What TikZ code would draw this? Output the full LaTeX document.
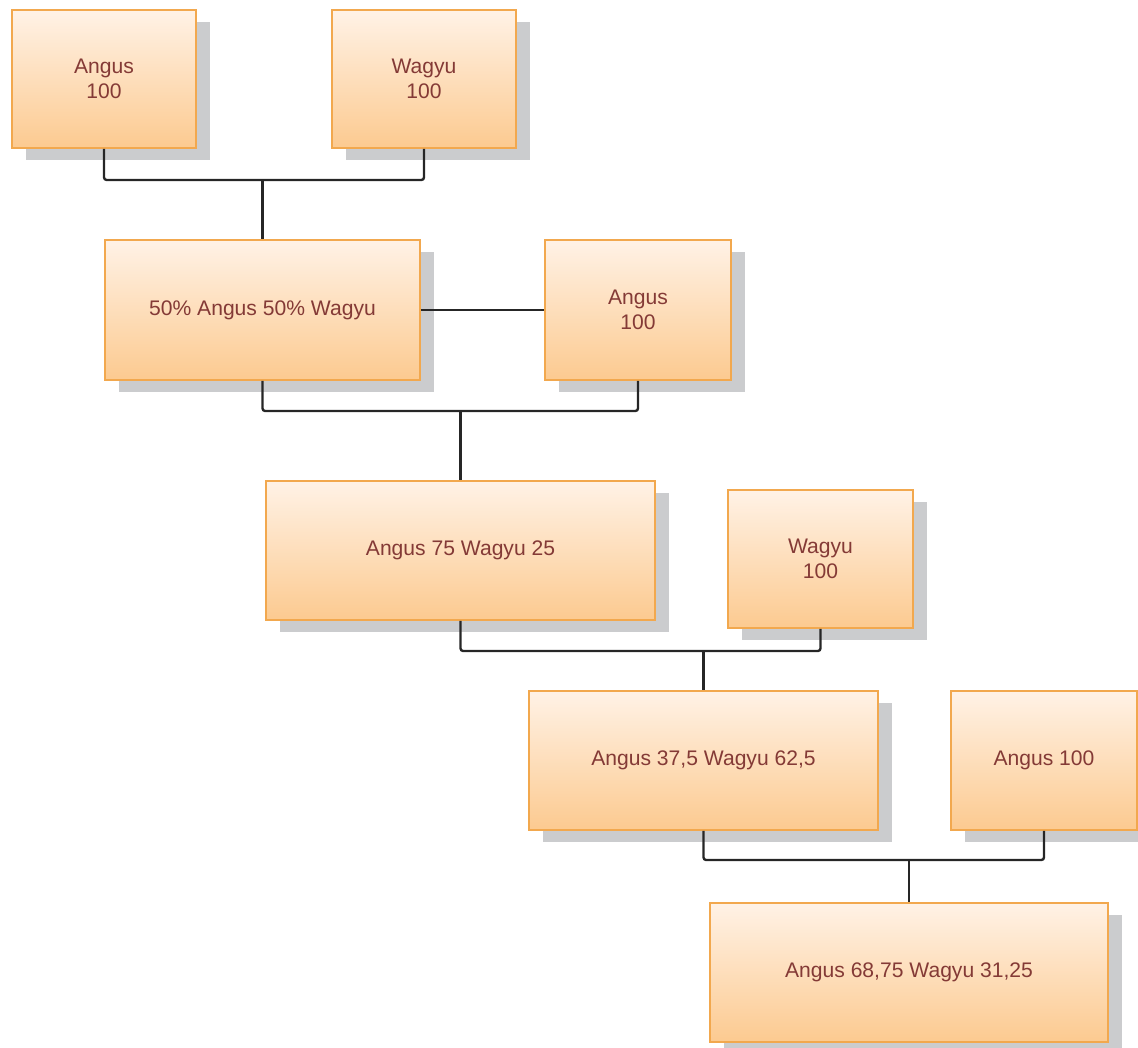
\documentclass[tikz,border=0pt]{standalone}
\usepackage{fontspec}
\setmainfont{Liberation Sans}
\usetikzlibrary{shadows}
\definecolor{boxtop}{HTML}{FFF2E6}
\definecolor{boxbot}{HTML}{FCCA90}
\definecolor{boxline}{HTML}{F2A84E}
\definecolor{boxtext}{HTML}{843A36}
\definecolor{shade}{HTML}{CBCCCE}
\tikzset{
  breed/.style={draw=boxline, line width=1.1pt, top color=boxtop, bottom color=boxbot,
    text=boxtext, font=\fontsize{12}{14.5}\selectfont, align=center, inner sep=0pt,
    drop shadow={shadow xshift=0.28cm, shadow yshift=-0.24cm, fill=shade, opacity=1}},
  link/.style={line width=1.35pt, black!85, rounded corners=1.5pt}
}
\begin{document}
\begin{tikzpicture}
% Crossbreeding chart
\useasboundingbox (0,0) rectangle (22.76,-20.94);
\node[breed, minimum width=3.68cm, minimum height=2.76cm] (ang1) at (2.08,-1.58) {Angus\\100};
\node[breed, minimum width=3.68cm, minimum height=2.76cm] (wag1) at (8.48,-1.58) {Wagyu\\100};
\node[breed, minimum width=6.3cm, minimum height=2.8cm] (f1) at (5.25,-6.2) {50\% Angus 50\% Wagyu};
\node[breed, minimum width=3.72cm, minimum height=2.8cm] (ang2) at (12.76,-6.2) {Angus\\100};
\node[breed, minimum width=7.78cm, minimum height=2.78cm] (f2) at (9.21,-11.01) {Angus 75 Wagyu 25};
\node[breed, minimum width=3.7cm, minimum height=2.76cm] (wag2) at (16.41,-11.18) {Wagyu\\100};
\node[breed, minimum width=6.98cm, minimum height=2.78cm] (f3) at (14.07,-15.21) {Angus 37,5 Wagyu 62,5};
\node[breed, minimum width=3.72cm, minimum height=2.78cm] (ang3) at (20.88,-15.21) {Angus 100};
\node[breed, minimum width=7.96cm, minimum height=2.78cm] (f4) at (18.18,-19.45) {Angus 68,75 Wagyu 31,25};
% junctions
\coordinate (j1) at (f1.north |- 0,-3.6);
\coordinate (j2) at (f2.north |- 0,-8.22);
\coordinate (j3) at (f3.north |- 0,-13.02);
\coordinate (j4) at (f4.north |- 0,-17.2);
\draw[link] (ang1.south) |- (j1) -| (wag1.south);
\draw[link] (j1) -- (f1.north);
\draw[link] (f1.east) -- (ang2.west);
\draw[link] (f1.south) |- (j2) -| (ang2.south);
\draw[link] (j2) -- (f2.north);
\draw[link] (f2.south) |- (j3) -| (wag2.south);
\draw[link] (j3) -- (f3.north);
\draw[link] (f3.south) |- (j4) -| (ang3.south);
\draw[link] (j4) -- (f4.north);
\end{tikzpicture}
\end{document}
